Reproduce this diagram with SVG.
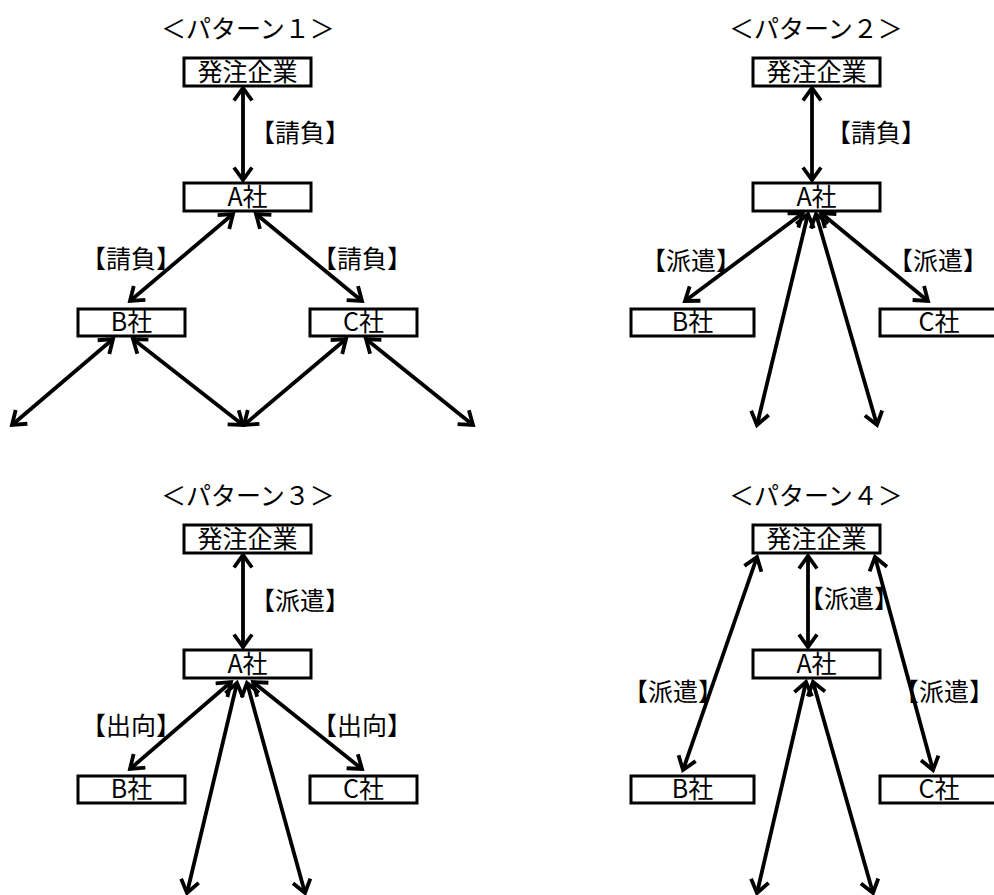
<svg xmlns="http://www.w3.org/2000/svg" width="994" height="895" viewBox="0 0 994 895">
<style>
.box{fill:#fff;stroke:#000;stroke-width:3}
.t{font-family:"Noto Sans CJK JP","Liberation Sans",sans-serif;font-size:25px;fill:#000;text-anchor:middle;dominant-baseline:central}
.c line{stroke:#000;stroke-width:3.8;marker-start:url(#ah);marker-end:url(#ah)}
</style>
<defs>
<marker id="ah" viewBox="-16 -12 20 24" refX="0" refY="0" markerWidth="20" markerHeight="24" markerUnits="userSpaceOnUse" orient="auto-start-reverse"><path d="M-12.5,-9 L0,0 L-12.5,9" fill="none" stroke="#000" stroke-width="3.8"/></marker>
</defs>
<g id="titles">
<text class="t" x="248" y="27">＜パターン１＞</text>
<text class="t" x="816" y="27">＜パターン２＞</text>
<text class="t" x="248" y="494">＜パターン３＞</text>
<text class="t" x="816" y="494">＜パターン４＞</text>
</g>
<g id="connectors" class="c">
<line x1="243" y1="88" x2="243" y2="180"/>
<line x1="233" y1="214" x2="130" y2="301"/>
<line x1="256" y1="214" x2="362" y2="301"/>
<line x1="113" y1="339" x2="12" y2="425"/>
<line x1="133" y1="339" x2="243" y2="425"/>
<line x1="346" y1="339" x2="244" y2="425"/>
<line x1="366" y1="339" x2="473" y2="425"/>
<line x1="812" y1="88" x2="812" y2="180"/>
<line x1="803" y1="213" x2="685" y2="301"/>
<line x1="821" y1="213" x2="928" y2="301"/>
<line x1="808" y1="214" x2="757" y2="425"/>
<line x1="816" y1="214" x2="877" y2="425"/>
<line x1="243" y1="555" x2="243" y2="647"/>
<line x1="231" y1="682" x2="130" y2="769"/>
<line x1="253" y1="682" x2="362" y2="769"/>
<line x1="237" y1="683" x2="187" y2="893"/>
<line x1="247" y1="683" x2="305" y2="893"/>
<line x1="808" y1="556" x2="808" y2="647"/>
<line x1="757" y1="557" x2="683" y2="770"/>
<line x1="875" y1="557" x2="933" y2="770"/>
<line x1="806" y1="682" x2="757" y2="893"/>
<line x1="813" y1="682" x2="873" y2="893"/>
</g>
<g id="labels">
<text class="t" x="300" y="131">【請負】</text>
<text class="t" x="131" y="257">【請負】</text>
<text class="t" x="362" y="257">【請負】</text>
<text class="t" x="876" y="131">【請負】</text>
<text class="t" x="691" y="259">【派遣】</text>
<text class="t" x="938" y="259">【派遣】</text>
<text class="t" x="300" y="599">【派遣】</text>
<text class="t" x="131" y="724">【出向】</text>
<text class="t" x="362" y="724">【出向】</text>
<text class="t" x="849" y="597">【派遣】</text>
<text class="t" x="673" y="690">【派遣】</text>
<text class="t" x="944" y="690">【派遣】</text>
</g>
<g id="p1-client"><rect class="box" x="184" y="58" width="127" height="28"/><text class="t" x="247.5" y="69.5">発注企業</text></g>
<g id="p1-a"><rect class="box" x="184" y="183" width="127" height="28"/><text class="t" x="247.5" y="195">A社</text></g>
<g id="p1-b"><rect class="box" x="78" y="309" width="107" height="27"/><text class="t" x="131.5" y="320">B社</text></g>
<g id="p1-c"><rect class="box" x="310" y="309" width="107" height="27"/><text class="t" x="363.5" y="320">C社</text></g>
<g id="p2-client"><rect class="box" x="753" y="58" width="127" height="28"/><text class="t" x="816.5" y="69.5">発注企業</text></g>
<g id="p2-a"><rect class="box" x="753" y="183" width="127" height="28"/><text class="t" x="816.5" y="195">A社</text></g>
<g id="p2-b"><rect class="box" x="631" y="309" width="123" height="27"/><text class="t" x="692.5" y="320">B社</text></g>
<g id="p2-c"><rect class="box" x="880" y="309" width="124" height="27"/><text class="t" x="939" y="320">C社</text></g>
<g id="p3-client"><rect class="box" x="184" y="525" width="127" height="28"/><text class="t" x="247.5" y="536.5">発注企業</text></g>
<g id="p3-a"><rect class="box" x="184" y="650" width="127" height="28"/><text class="t" x="247.5" y="662">A社</text></g>
<g id="p3-b"><rect class="box" x="78" y="776" width="107" height="27"/><text class="t" x="131.5" y="787">B社</text></g>
<g id="p3-c"><rect class="box" x="310" y="776" width="107" height="27"/><text class="t" x="363.5" y="787">C社</text></g>
<g id="p4-client"><rect class="box" x="753" y="525" width="127" height="28"/><text class="t" x="816.5" y="536.5">発注企業</text></g>
<g id="p4-a"><rect class="box" x="753" y="650" width="127" height="28"/><text class="t" x="816.5" y="662">A社</text></g>
<g id="p4-b"><rect class="box" x="631" y="776" width="123" height="27"/><text class="t" x="692.5" y="787">B社</text></g>
<g id="p4-c"><rect class="box" x="880" y="776" width="124" height="27"/><text class="t" x="939" y="787">C社</text></g>
</svg>
